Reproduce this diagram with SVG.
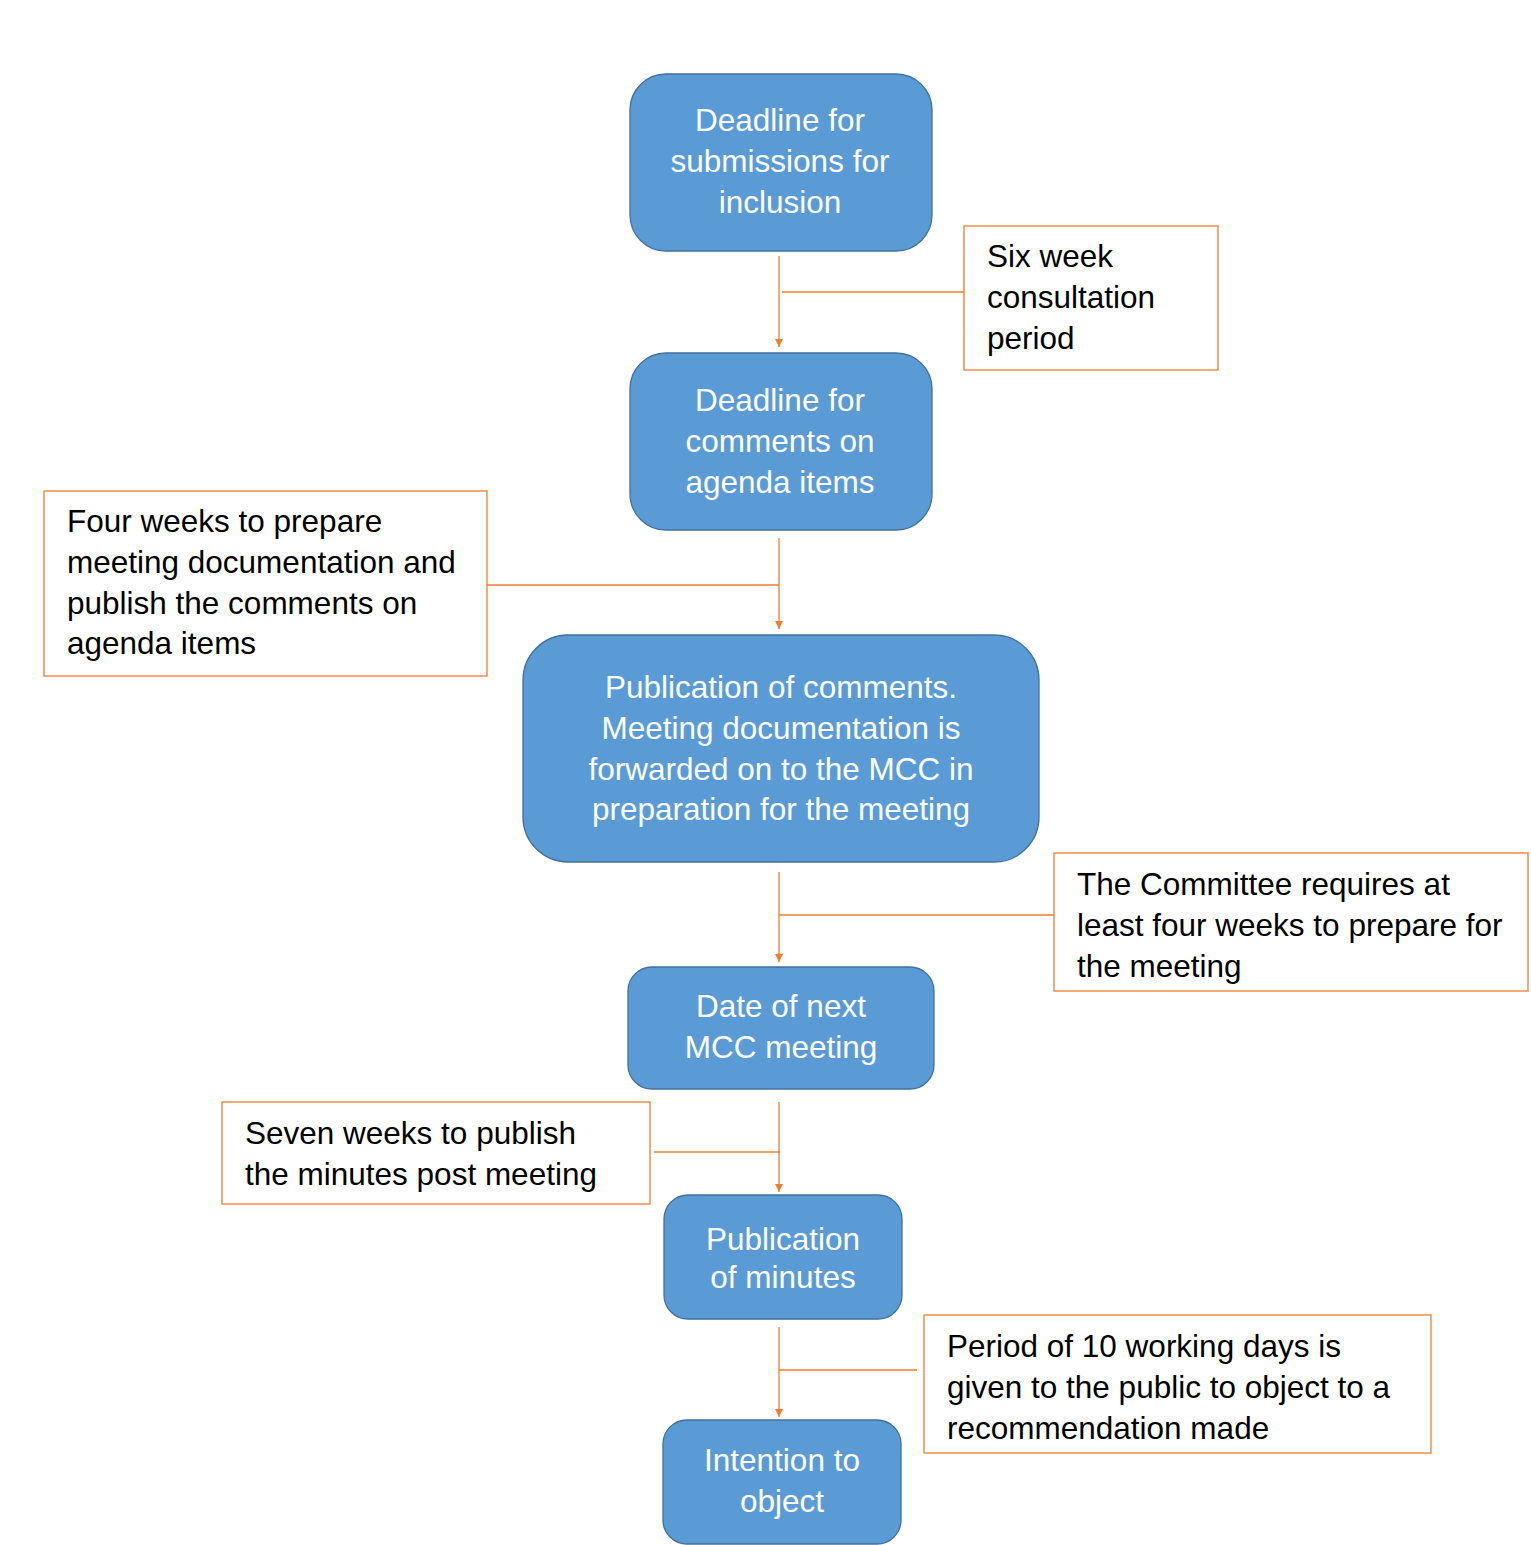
<svg xmlns="http://www.w3.org/2000/svg" width="1531" height="1545" viewBox="0 0 1531 1545">
<defs>
<style>
.node{fill:#5B9BD5;stroke:#41719C;stroke-width:1.3}
.nt{font-family:"Liberation Sans",Arial,sans-serif;font-size:31.5px;fill:#FFFFFF;text-anchor:middle}
.note{fill:#FFFFFF;stroke:#ED7D31;stroke-width:1.3}
.at{font-family:"Liberation Sans",Arial,sans-serif;font-size:31.5px;fill:#000000}
.c{stroke:#ED7D31;stroke-width:1.3;fill:none}
</style>
<marker id="ah" viewBox="0 0 10 10" refX="10" refY="5" markerWidth="9" markerHeight="8" markerUnits="userSpaceOnUse" orient="auto">
<path d="M0,0 L10,5 L0,10 Z" fill="#ED7D31"/>
</marker>
</defs>
<rect width="1531" height="1545" fill="#FFFFFF"/>
<g id="connectors">
<line class="c" x1="779" y1="256" x2="779" y2="347" marker-end="url(#ah)"/>
<line class="c" x1="782" y1="292" x2="964" y2="292"/>
<line class="c" x1="779" y1="538" x2="779" y2="629" marker-end="url(#ah)"/>
<line class="c" x1="487" y1="585" x2="779" y2="585"/>
<line class="c" x1="779" y1="872" x2="779" y2="962" marker-end="url(#ah)"/>
<line class="c" x1="779" y1="915" x2="1054" y2="915"/>
<line class="c" x1="779" y1="1102" x2="779" y2="1192" marker-end="url(#ah)"/>
<line class="c" x1="654" y1="1152" x2="780" y2="1152"/>
<line class="c" x1="779" y1="1327" x2="779" y2="1417" marker-end="url(#ah)"/>
<line class="c" x1="779" y1="1370" x2="917" y2="1370"/>
</g>
<g id="n1">
<rect class="node" x="630" y="74" width="302" height="177" rx="36"/>
<text class="nt" x="780" y="131">Deadline for</text>
<text class="nt" x="780" y="172">submissions for</text>
<text class="nt" x="780" y="213">inclusion</text>
</g>
<g id="n2">
<rect class="node" x="630" y="353" width="302" height="177" rx="36"/>
<text class="nt" x="780" y="411">Deadline for</text>
<text class="nt" x="780" y="452">comments on</text>
<text class="nt" x="780" y="493">agenda items</text>
</g>
<g id="n3">
<rect class="node" x="523" y="635" width="516" height="227" rx="45"/>
<text class="nt" x="781" y="698">Publication of comments.</text>
<text class="nt" x="781" y="739">Meeting documentation is</text>
<text class="nt" x="781" y="780">forwarded on to the MCC in</text>
<text class="nt" x="781" y="820">preparation for the meeting</text>
</g>
<g id="n4">
<rect class="node" x="628" y="967" width="306" height="122" rx="24"/>
<text class="nt" x="781" y="1017">Date of next</text>
<text class="nt" x="781" y="1058">MCC meeting</text>
</g>
<g id="n5">
<rect class="node" x="664" y="1195" width="238" height="124" rx="24"/>
<text class="nt" x="783" y="1250">Publication</text>
<text class="nt" x="783" y="1288">of minutes</text>
</g>
<g id="n6">
<rect class="node" x="663" y="1420" width="238" height="124" rx="24"/>
<text class="nt" x="782" y="1471">Intention to</text>
<text class="nt" x="782" y="1512">object</text>
</g>
<g id="a1">
<rect class="note" x="964" y="226" width="254" height="144"/>
<text class="at" x="987" y="267">Six week</text>
<text class="at" x="987" y="308">consultation</text>
<text class="at" x="987" y="349">period</text>
</g>
<g id="a2">
<rect class="note" x="44" y="491" width="443" height="185"/>
<text class="at" x="67" y="532">Four weeks to prepare</text>
<text class="at" x="67" y="573">meeting documentation and</text>
<text class="at" x="67" y="614">publish the comments on</text>
<text class="at" x="67" y="654">agenda items</text>
</g>
<g id="a3">
<rect class="note" x="1054" y="853" width="474" height="138"/>
<text class="at" x="1077" y="895">The Committee requires at</text>
<text class="at" x="1077" y="936">least four weeks to prepare for</text>
<text class="at" x="1077" y="977">the meeting</text>
</g>
<g id="a4">
<rect class="note" x="222" y="1102" width="428" height="102"/>
<text class="at" x="245" y="1144">Seven weeks to publish</text>
<text class="at" x="245" y="1185">the minutes post meeting</text>
</g>
<g id="a5">
<rect class="note" x="924" y="1315" width="507" height="138"/>
<text class="at" x="947" y="1357">Period of 10 working days is</text>
<text class="at" x="947" y="1398">given to the public to object to a</text>
<text class="at" x="947" y="1439">recommendation made</text>
</g>
</svg>
